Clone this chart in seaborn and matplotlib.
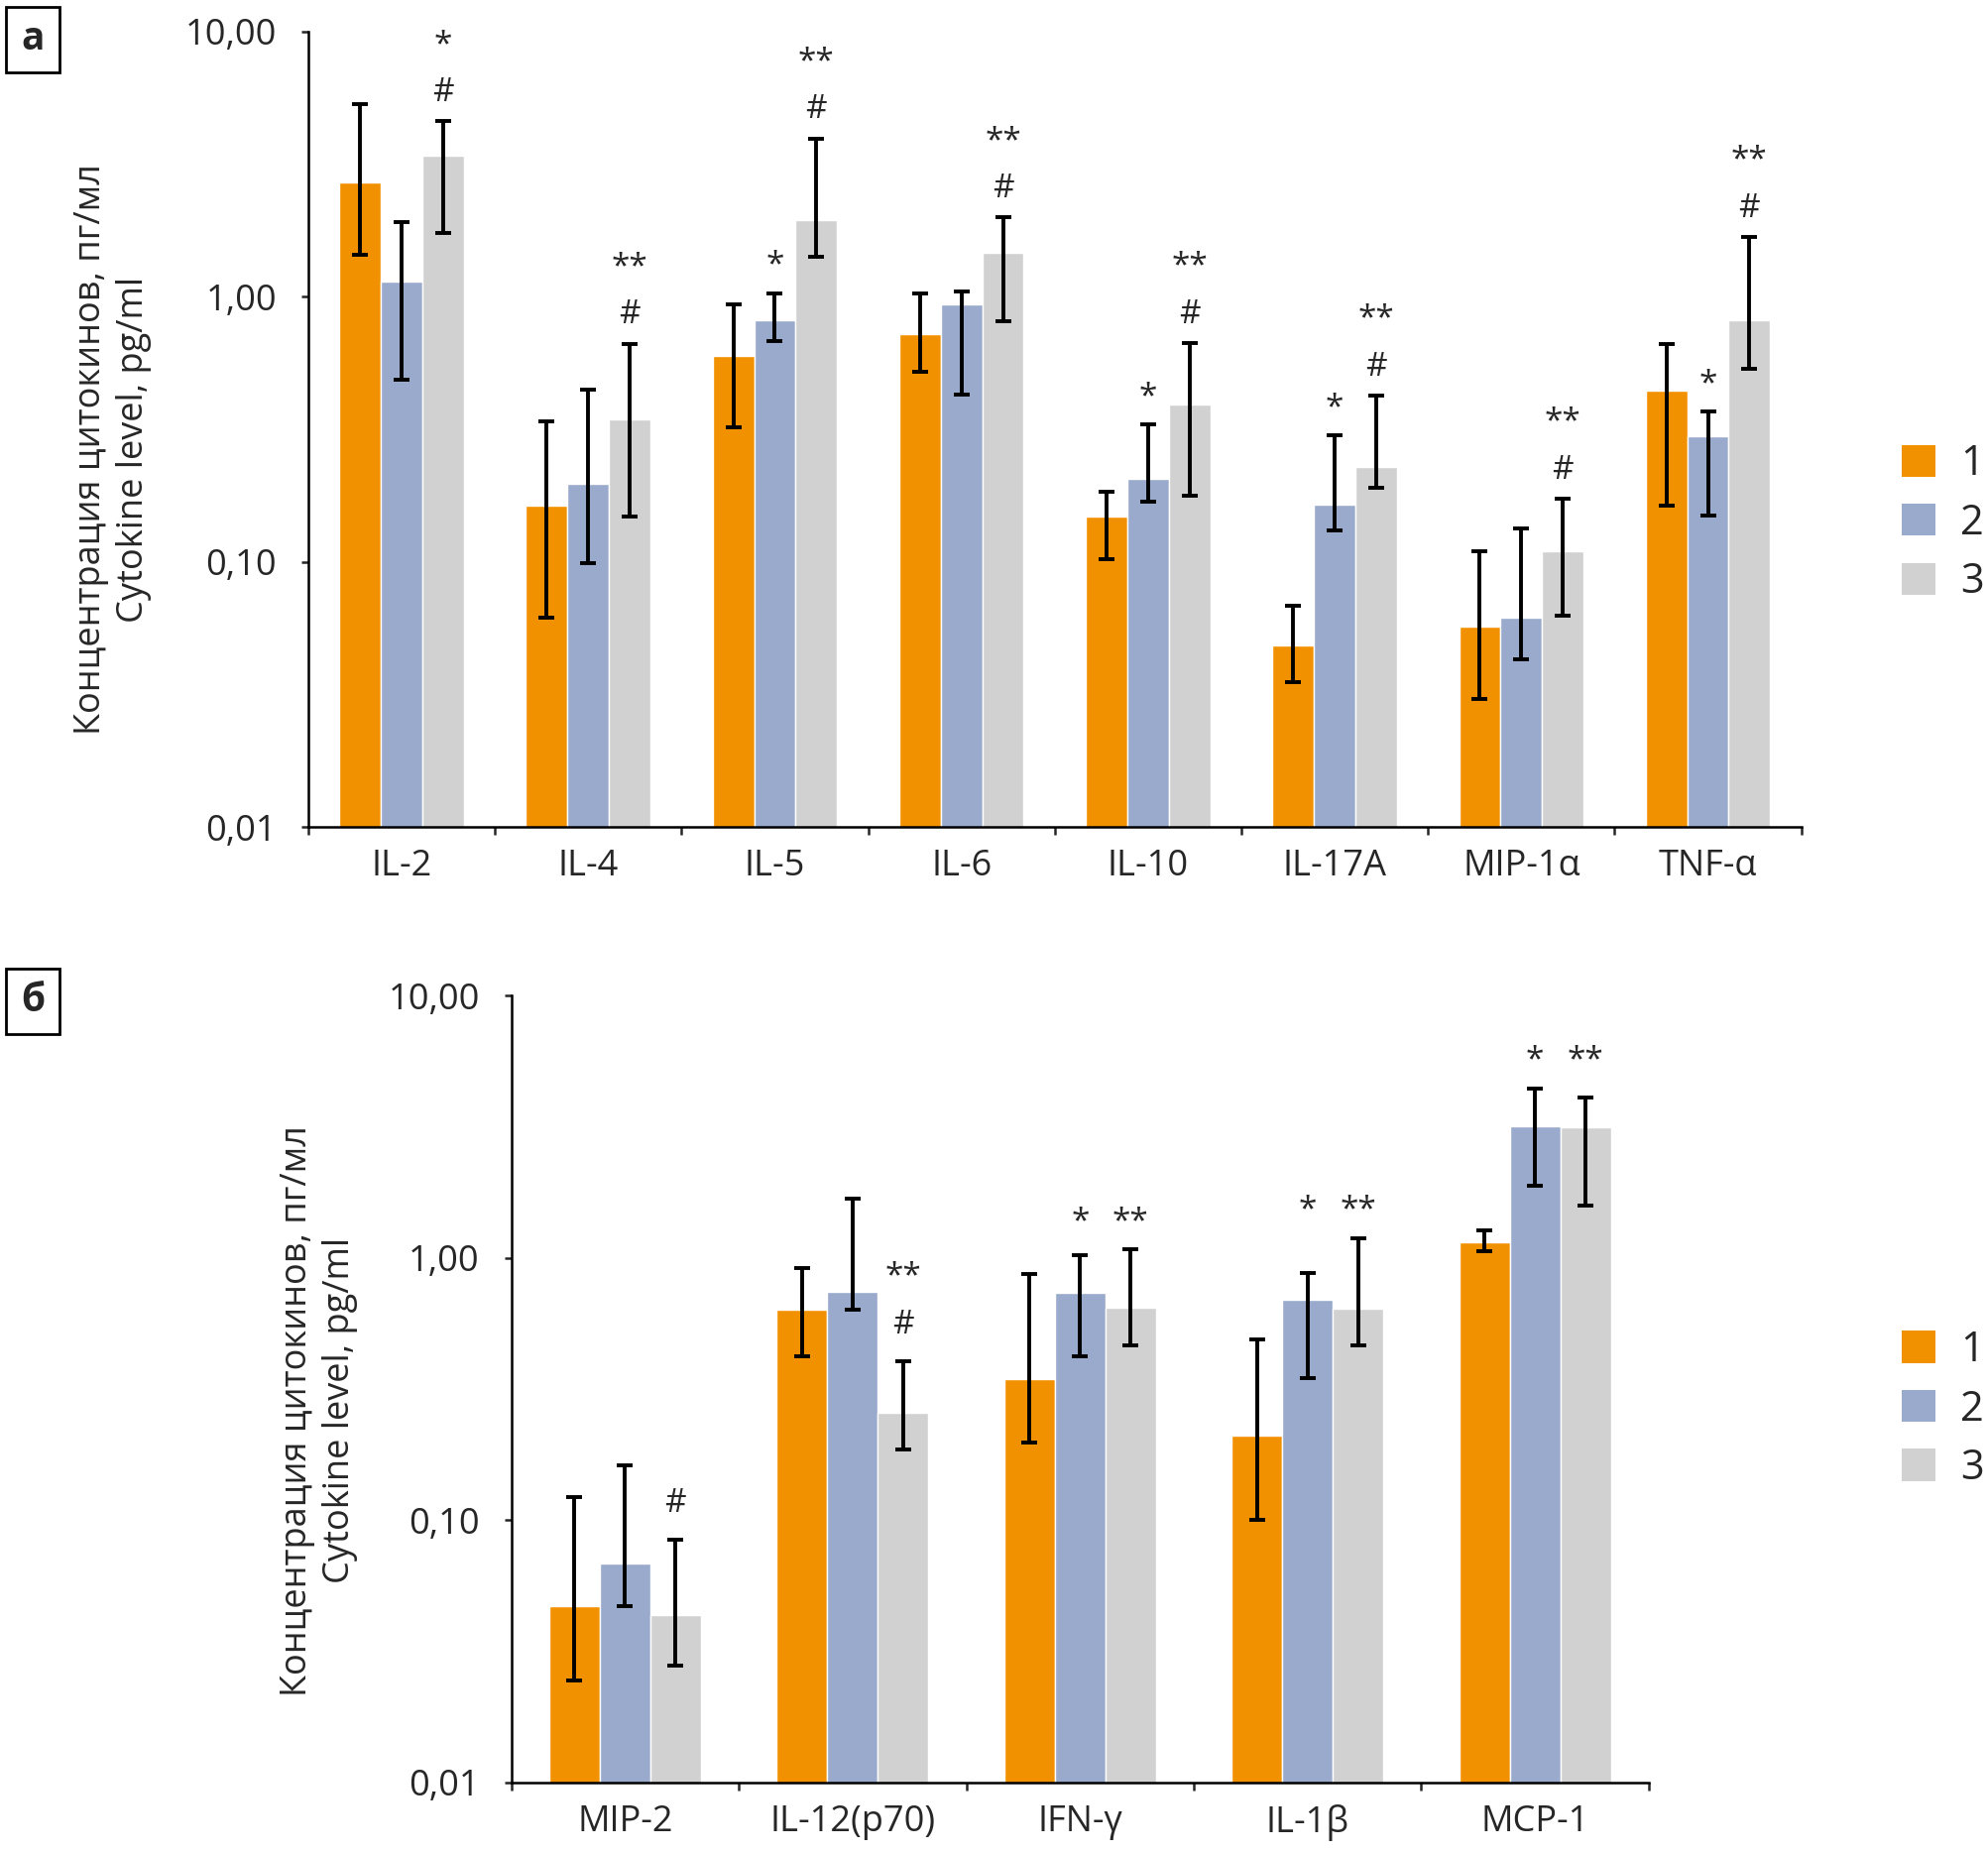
import numpy as np
import pandas as pd
import matplotlib
matplotlib.use("Agg")
import matplotlib.pyplot as plt
import seaborn as sns
from matplotlib.patches import Patch, Rectangle
from matplotlib.container import BarContainer

# ---- data ----
groups = ["1", "2", "3"]
colors = ["#F29100", "#99AACC", "#D1D1D1"]

# panel a
cyto_a = ["IL-2", "IL-4", "IL-5", "IL-6", "IL-10", "IL-17A", "MIP-1α", "TNF-α"]
mean_a = [[2.70, 0.163, 0.600, 0.724, 0.148, 0.0486, 0.0569, 0.444],
          [1.14, 0.197, 0.818, 0.939, 0.206, 0.165, 0.0616, 0.297],
          [3.42, 0.345, 1.95, 1.46, 0.393, 0.229, 0.110, 0.814]]
hi_a = [[5.35, 0.340, 0.940, 1.026, 0.184, 0.0686, 0.110, 0.665],
        [1.92, 0.447, 1.032, 1.047, 0.330, 0.300, 0.134, 0.368],
        [4.59, 0.665, 3.96, 1.99, 0.668, 0.423, 0.173, 1.68]]
lo_a = [[1.44, 0.0616, 0.322, 0.523, 0.1028, 0.0353, 0.0304, 0.163],
        [0.485, 0.0989, 0.682, 0.427, 0.169, 0.131, 0.043, 0.1495],
        [1.74, 0.148, 1.41, 0.81, 0.178, 0.190, 0.0625, 0.536]]
marks_a = [["", "", "", "", "", "", "", ""],
           ["", "", "*", "", "*", "*", "", "*"],
           ["*\n#", "**\n#", "**\n#", "**\n#", "**\n#", "**\n#", "**\n#", "**\n#"]]

# panel б
cyto_b = ["MIP-2", "IL-12(p70)", "IFN-γ", "IL-1β", "MCP-1"]
mean_b = [[0.0468, 0.637, 0.345, 0.210, 1.146],
          [0.0683, 0.743, 0.735, 0.695, 3.18],
          [0.0436, 0.257, 0.647, 0.643, 3.15]]
hi_b = [[0.122, 0.915, 0.870, 0.489, 1.277],
        [0.162, 1.69, 1.024, 0.874, 4.44],
        [0.0838, 0.402, 1.078, 1.19, 4.09]]
lo_b = [[0.0245, 0.423, 0.197, 0.100, 1.062],
        [0.0468, 0.634, 0.421, 0.3485, 1.88],
        [0.0278, 0.186, 0.462, 0.462, 1.59]]
marks_b = [["", "", "", "", ""],
           ["", "", "*", "*", "*"],
           ["#", "**\n#", "**", "**", "**"]]

ytick_vals = [0.01, 0.1, 1, 10]
ytick_labels = ["0,01", "0,10", "1,00", "10,00"]
ylabel = "Концентрация цитокинов, пг/мл\nCytokine level, pg/ml"

sns.set_theme(style="white")
plt.rcParams["font.family"] = ["Open Sans", "DejaVu Sans"]
FS = 26


def draw_panel(ax, cats, means, his, los, marks, align_marks, hash_off):
    rows = []
    for g, vals in zip(groups, means):
        for c, v in zip(cats, vals):
            rows.append({"cytokine": c, "group": g, "value": v})
    df = pd.DataFrame(rows)
    sns.barplot(data=df, x="cytokine", y="value", hue="group", order=cats,
                hue_order=groups, palette=colors, width=0.667, gap=0,
                errorbar=None, saturation=1, legend=False, ax=ax)
    ax.set_yscale("log")

    bar_conts = [c for c in ax.containers if isinstance(c, BarContainer)]
    xs_all = []
    for i, cont in enumerate(bar_conts):
        xs = [p.get_x() + p.get_width() / 2 for p in cont]
        m = np.array(means[i])
        ax.errorbar(xs, m, yerr=[m - np.array(los[i]), np.array(his[i]) - m],
                    fmt="none", ecolor="black", elinewidth=2.8, capsize=5.8,
                    capthick=2.8, zorder=3)
        xs_all.append(xs)

    n = len(cats)
    for i in range(len(groups)):
        for j in range(n):
            txt = marks[i][j]
            if not txt:
                continue
            if align_marks:
                y = max(his[k][j] for k in range(len(groups)) if marks[k][j])
            else:
                y = his[i][j]
            off = hash_off if "#" in txt else 8
            ax.annotate(txt, (xs_all[i][j], y), xytext=(0, off),
                        textcoords="offset points", ha="center", va="bottom",
                        fontsize=24, linespacing=1.6)

    ax.set_ylim(0.01, 10)
    ax.set_yticks(ytick_vals)
    ax.set_yticklabels(ytick_labels)
    ax.yaxis.set_minor_locator(matplotlib.ticker.NullLocator())
    ax.set_xlim(-0.5, n - 0.5)
    ax.set_xticks(np.arange(-0.5, n, 1.0), minor=True)
    ax.tick_params(axis="x", which="major", length=0, pad=16, labelsize=FS)
    ax.tick_params(axis="x", which="minor", length=6, width=1.8, direction="out", bottom=True)
    ax.tick_params(axis="y", which="major", length=5, width=1.8, direction="out",
                   pad=18, labelsize=FS, left=True)
    ax.set_xlabel("")
    ax.set_ylabel("")
    sns.despine(ax=ax)
    for s in ["left", "bottom"]:
        ax.spines[s].set_linewidth(1.8)
        ax.spines[s].set_color("black")


fig = plt.figure(figsize=(20.06, 18.68), dpi=100)
ax_a = fig.add_axes([0.155, 0.5534, 0.7506, 0.4295])
ax_b = fig.add_axes([0.257, 0.0377, 0.572, 0.4246])

draw_panel(ax_a, cyto_a, mean_a, hi_a, lo_a, marks_a, False, 9)
draw_panel(ax_b, cyto_b, mean_b, hi_b, lo_b, marks_b, True, 15)

ax_a.text(-0.131, 0.475, ylabel, transform=ax_a.transAxes, rotation=90,
          ha="center", va="center", multialignment="center", fontsize=FS, linespacing=1.25)
ax_b.text(-0.169, 0.4726, ylabel, transform=ax_b.transAxes, rotation=90,
          ha="center", va="center", multialignment="center", fontsize=FS, linespacing=1.25)

handles = [Patch(facecolor=c, edgecolor="none") for c in colors]
for cy in [0.7175, 0.239]:
    fig.legend(handles, groups, loc="center left", bbox_to_anchor=(0.9562, cy),
               frameon=False, fontsize=FS + 4, handlelength=0.82, handleheight=0.82,
               handletextpad=0.6, labelspacing=0.42, borderpad=0, borderaxespad=0)

# panel letters in boxes
for lab, y0 in [("а", 1 - 73 / 1868), ("б", 1 - 1043 / 1868)]:
    fig.patches.append(Rectangle((6 / 2006, y0), 54 / 2006, 66 / 1868, transform=fig.transFigure,
                                 fill=False, edgecolor="black", linewidth=2))
    fig.text(33 / 2006, y0 + 33 / 1868, lab, ha="center", va="center",
             fontsize=FS + 2, fontweight="bold")

fig.savefig("out.png", dpi=100, facecolor="white")
